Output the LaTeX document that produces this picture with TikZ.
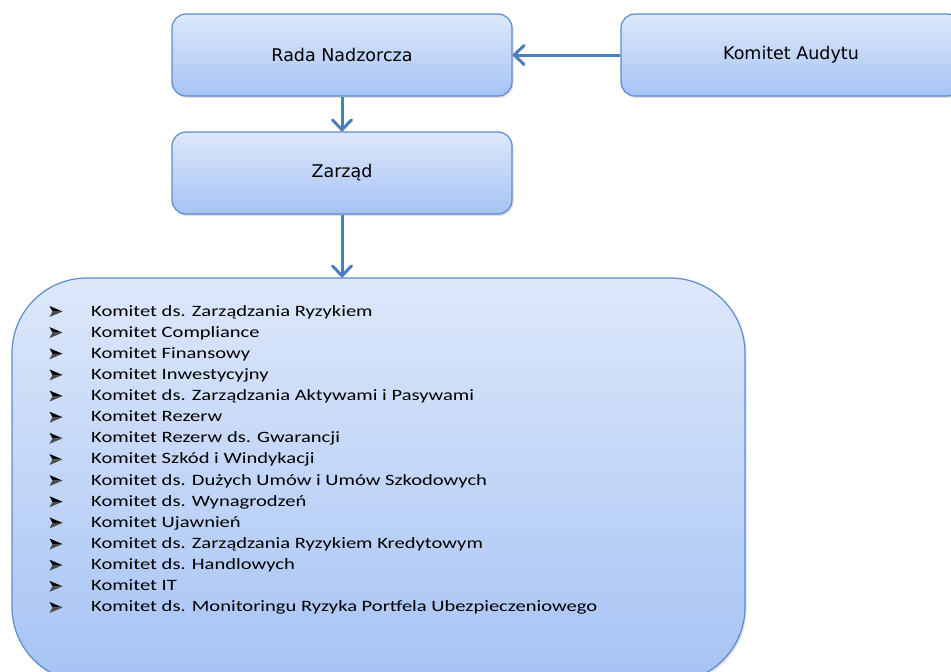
\documentclass[tikz,border=0pt]{standalone}
\usepackage{fontspec}
\setmainfont{DejaVu Sans}
\newfontfamily\listfont[FakeStretch=1.3]{Carlito}
\usetikzlibrary{arrows.meta,shadows}
\definecolor{boxline}{HTML}{5B8BD0}
\definecolor{boxtop}{HTML}{DDE8FA}
\definecolor{boxbottom}{HTML}{A6C3F4}
\definecolor{arrowblue}{HTML}{4A7EC0}
\tikzset{
  organ/.style={draw=boxline, line width=1.2pt, rounded corners=14pt,
    top color=boxtop, bottom color=boxbottom,
    drop shadow={opacity=0.25, shadow xshift=1.5pt, shadow yshift=-2pt},
    minimum width=340pt, minimum height=82pt, inner sep=0pt,
    font=\fontsize{17.5}{20}\selectfont},
  link/.style={draw=arrowblue, line width=3pt,
    -{Straight Barb[length=10pt,width=19pt,line width=3pt,round]}},
  entry/.style={font=\listfont\fontsize{15.8}{18}\selectfont, inner sep=0pt, anchor=base west},
  pics/grot/.style={code={
    \fill[black] (-6.5,-5.5) -- (6.5,0) -- (-3.5,0) -- cycle;
    \fill[black!70] (-3.5,0) -- (6.5,0) -- (-6.5,5.5) -- cycle;
  }},
}
\begin{document}
\begin{tikzpicture}[x=1pt, y=-1pt, line join=round]
		\useasboundingbox (0,0) rectangle (951,672);
		\clip (0,0) rectangle (951,672);
		\node[organ] (rada) at (342,55) {Rada Nadzorcza};
		\node[organ] (audyt) at (791,55) {Komitet Audytu};
		\node[organ] (zarzad) at (342,173) {Zarząd};
		\node[organ, rounded corners=75pt, minimum width=733pt, minimum height=404pt] (komitety) at (378.5,480) {};
		\draw[link] (audyt.west) -- (rada.east);
		\draw[link] (rada.south) -- (zarzad.north);
		\draw[link] (zarzad.south) -- (zarzad.south |- komitety.north);
		\foreach \nazwa [count=\i from 0] in {Komitet ds. Zarządzania Ryzykiem, Komitet Compliance, Komitet Finansowy, Komitet Inwestycyjny, Komitet ds. Zarządzania Aktywami i Pasywami, Komitet Rezerw, Komitet Rezerw ds. Gwarancji, Komitet Szkód i Windykacji, Komitet ds. Dużych Umów i Umów Szkodowych, Komitet ds. Wynagrodzeń, Komitet Ujawnień, Komitet ds. Zarządzania Ryzykiem Kredytowym, Komitet ds. Handlowych, Komitet IT, Komitet ds. Monitoringu Ryzyka  Portfela Ubezpieczeniowego}{
			\pic at (56,311.5+21.14*\i) {grot};
			\node[entry] (k\i) at (91,316+21.14*\i) {\nazwa};
		}
\end{tikzpicture}
\end{document}
